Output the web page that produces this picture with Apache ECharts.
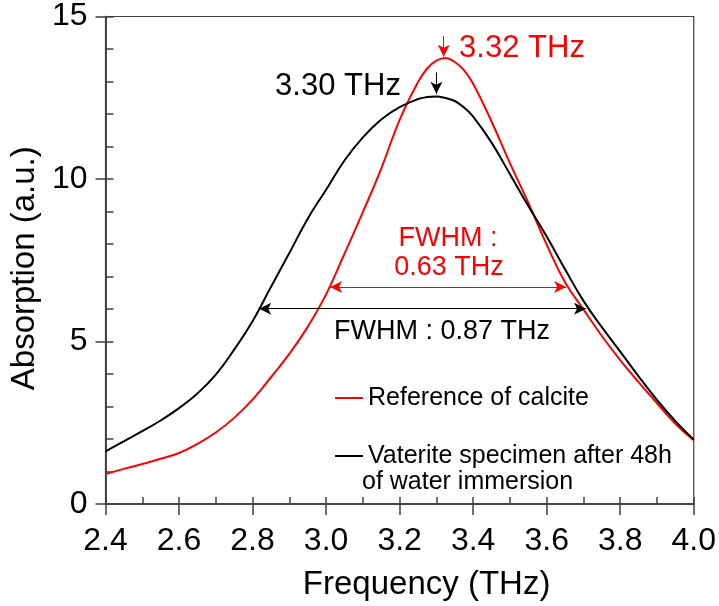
<!DOCTYPE html>
<html>
<head>
<meta charset="utf-8">
<script src="https://cdn.jsdelivr.net/npm/echarts@6/dist/echarts.min.js"></script>
<style>
  html, body { margin: 0; padding: 0; background: #fff; }
  #chart { width: 719px; height: 606px; }
</style>
</head>
<body>
<div id="chart"></div>
<script>
// frequency grid (THz), a bit denser around the peaks
var freq = [2.40, 2.45, 2.50, 2.55, 2.60, 2.65, 2.70, 2.75, 2.80, 2.85, 2.90, 2.95, 3.00,
            3.05, 3.10, 3.15, 3.20, 3.25, 3.275, 3.30, 3.325, 3.35, 3.375, 3.40, 3.45, 3.50,
            3.55, 3.60, 3.65, 3.70, 3.75, 3.80, 3.85, 3.90, 3.95, 4.00];
// calcite reference
var calcite = [0.92, 1.08, 1.23, 1.39, 1.57, 1.85, 2.20, 2.65, 3.21, 3.90, 4.62, 5.45, 6.45,
               7.70, 8.98, 10.32, 11.82, 12.98, 13.40, 13.64, 13.72, 13.60, 13.35, 12.93, 11.77, 10.49,
               9.27, 7.98, 6.82, 5.99, 5.17, 4.43, 3.75, 3.10, 2.47, 1.96];
// vaterite after 48h water immersion
var vaterite = [1.62, 1.93, 2.24, 2.57, 2.95, 3.40, 3.98, 4.75, 5.62, 6.68, 7.72, 8.78, 9.67,
                10.57, 11.28, 11.83, 12.21, 12.46, 12.52, 12.54, 12.49, 12.40, 12.20, 11.92, 11.12, 10.15,
                9.17, 8.23, 7.22, 6.25, 5.44, 4.69, 3.93, 3.20, 2.55, 1.98];
var xTicks = [2.4, 2.6, 2.8, 3.0, 3.2, 3.4, 3.6, 3.8, 4.0];
var yTicks = [0, 5, 10, 15];

// annotation arrows: [x1, y1, x2, y2]
var calcitePeakArrow = [3.32, 14.40, 3.32, 13.76];
var vateritePeakArrow = [3.30, 13.28, 3.30, 12.62];
var calciteFwhm = [3.011, 6.68, 3.653, 6.68];
var vateriteFwhm = [2.818, 6.01, 3.707, 6.01];

var FONT = "'Liberation Sans', Arial, sans-serif";
var AXIS_COLOR = '#404040';

function pairs(xs, ys) {
    return xs.map(function (x, i) { return [x, ys[i]]; });
}

function arrowLine(a, color, symbols) {
    return {
        silent: true,
        symbol: symbols,
        symbolSize: [9, 12],
        label: { show: false },
        lineStyle: { color: color, width: 1, type: 'solid' },
        emphasis: { disabled: true },
        data: [[{ coord: [a[0], a[1]] }, { coord: [a[2], a[3]] }]]
    };
}

var chart = echarts.init(document.getElementById('chart'), null, { renderer: 'canvas' });

var xBase = {
    type: 'value', min: 2.4, max: 4.0, interval: 0.2,
    axisLine: { show: true, onZero: false, lineStyle: { color: AXIS_COLOR, width: 1.5 } },
    splitLine: { show: false }
};
var yBase = {
    type: 'value', min: 0, max: 15, interval: 5,
    axisLine: { show: true, onZero: false, lineStyle: { color: AXIS_COLOR, width: 1.5 } },
    splitLine: { show: false }
};

var option = {
    backgroundColor: '#fff',
    animation: false,
    textStyle: { fontFamily: FONT },
    grid: {
        left: 100, top: 16.5, width: 598, height: 487.5,
        show: true, borderColor: AXIS_COLOR, borderWidth: 1.2, backgroundColor: 'transparent'
    },
    xAxis: [
        Object.assign({}, xBase, {
            name: 'Frequency (THz)',
            nameLocation: 'middle',
            nameGap: 64,
            nameTextStyle: { fontSize: 33, color: '#000', fontFamily: FONT, padding: [0, 0, 0, 54] },
            axisTick: { show: true, inside: false, length: 11, lineStyle: { color: AXIS_COLOR, width: 1.5 } },
            axisLabel: {
                fontSize: 32, color: '#000', fontFamily: FONT, margin: 21,
                formatter: function (v) { return xTicks.indexOf(+v.toFixed(1)) >= 0 ? v.toFixed(1) : ''; }
            }
        }),
        Object.assign({}, xBase, {
            position: 'bottom',
            axisTick: { show: true, inside: true, length: 7, lineStyle: { color: AXIS_COLOR, width: 1.5 } },
            minorTick: { show: true, splitNumber: 2, length: 7, lineStyle: { color: AXIS_COLOR, width: 1.5 } },
            axisLabel: { show: false }
        })
    ],
    yAxis: [
        Object.assign({}, yBase, {
            name: 'Absorption (a.u.)',
            nameLocation: 'middle',
            nameGap: 61,
            nameTextStyle: { fontSize: 33, color: '#000', fontFamily: FONT, padding: [0, 16, 0, 0] },
            axisTick: { show: true, inside: false, length: 10, lineStyle: { color: AXIS_COLOR, width: 1.5 } },
            axisLabel: {
                fontSize: 32, color: '#000', fontFamily: FONT, margin: 18,
                formatter: function (v) { return yTicks.indexOf(v) >= 0 ? String(v) : ''; }
            }
        }),
        Object.assign({}, yBase, {
            position: 'left',
            axisTick: { show: true, inside: true, length: 8, lineStyle: { color: AXIS_COLOR, width: 1.5 } },
            minorTick: { show: true, splitNumber: 5, length: 8, lineStyle: { color: AXIS_COLOR, width: 1.5 } },
            axisLabel: { show: false }
        })
    ],
    legend: [
        {
            data: ['Reference of calcite'],
            left: 330, top: 378,
            itemWidth: 28, itemHeight: 2,
            icon: 'rect',
            textStyle: { fontSize: 25, color: '#000', fontFamily: FONT, lineHeight: 30 },
            selectedMode: false
        },
        {
            data: ['Vaterite specimen after 48h of water immersion'],
            left: 330, top: 436,
            itemWidth: 28, itemHeight: 2,
            icon: 'rect',
            formatter: function () { return 'Vaterite specimen after 48h'; },
            textStyle: { fontSize: 25, color: '#000', fontFamily: FONT, lineHeight: 30 },
            selectedMode: false
        }
    ],
    graphic: [
        { type: 'text', x: 362, y: 482, silent: true,
          style: { text: 'of water immersion', fill: '#000', font: '25px ' + FONT, textVerticalAlign: 'middle' } },
        { type: 'text', x: 338, y: 86, silent: true,
          style: { text: '3.30 THz', fill: '#000', font: '31px ' + FONT, textAlign: 'center', textVerticalAlign: 'middle' } },
        { type: 'text', x: 522, y: 48, silent: true,
          style: { text: '3.32 THz', fill: '#ff0000', font: '31px ' + FONT, textAlign: 'center', textVerticalAlign: 'middle' } },
        { type: 'text', x: 448, y: 239, silent: true,
          style: { text: 'FWHM :', fill: '#ff0000', font: '27px ' + FONT, textAlign: 'center', textVerticalAlign: 'middle' } },
        { type: 'text', x: 449, y: 268, silent: true,
          style: { text: '0.63 THz', fill: '#ff0000', font: '27px ' + FONT, textAlign: 'center', textVerticalAlign: 'middle' } },
        { type: 'text', x: 442, y: 332, silent: true,
          style: { text: 'FWHM : 0.87 THz', fill: '#000', font: '27px ' + FONT, textAlign: 'center', textVerticalAlign: 'middle' } }
    ],
    series: [
        {
            name: 'Reference of calcite',
            type: 'line',
            xAxisIndex: 0, yAxisIndex: 0,
            data: pairs(freq, calcite),
            smooth: 0.45,
            symbol: 'none',
            color: '#ff0000',
            lineStyle: { color: '#ff0000', width: 2 },
            z: 3,
            markLine: arrowLine(calciteFwhm, '#ff0000', ['arrow', 'arrow'])
        },
        {
            name: 'Vaterite specimen after 48h of water immersion',
            type: 'line',
            xAxisIndex: 0, yAxisIndex: 0,
            data: pairs(freq, vaterite),
            smooth: 0.45,
            symbol: 'none',
            color: '#000',
            lineStyle: { color: '#000', width: 2 },
            z: 4,
            markLine: arrowLine(vateriteFwhm, '#000', ['arrow', 'arrow'])
        },
        {
            name: 'peakArrows',
            type: 'line',
            data: [],
            markLine: {
                silent: true,
                symbol: ['none', 'arrow'],
                symbolSize: [9, 12],
                label: { show: false },
                emphasis: { disabled: true },
                data: [
                    [{ coord: [calcitePeakArrow[0], calcitePeakArrow[1]], lineStyle: { color: '#ff0000', width: 1, type: 'solid' } },
                     { coord: [calcitePeakArrow[2], calcitePeakArrow[3]] }],
                    [{ coord: [vateritePeakArrow[0], vateritePeakArrow[1]], lineStyle: { color: '#000', width: 1, type: 'solid' } },
                     { coord: [vateritePeakArrow[2], vateritePeakArrow[3]] }]
                ]
            }
        }
    ]
};

chart.setOption(option);
</script>
</body>
</html>
